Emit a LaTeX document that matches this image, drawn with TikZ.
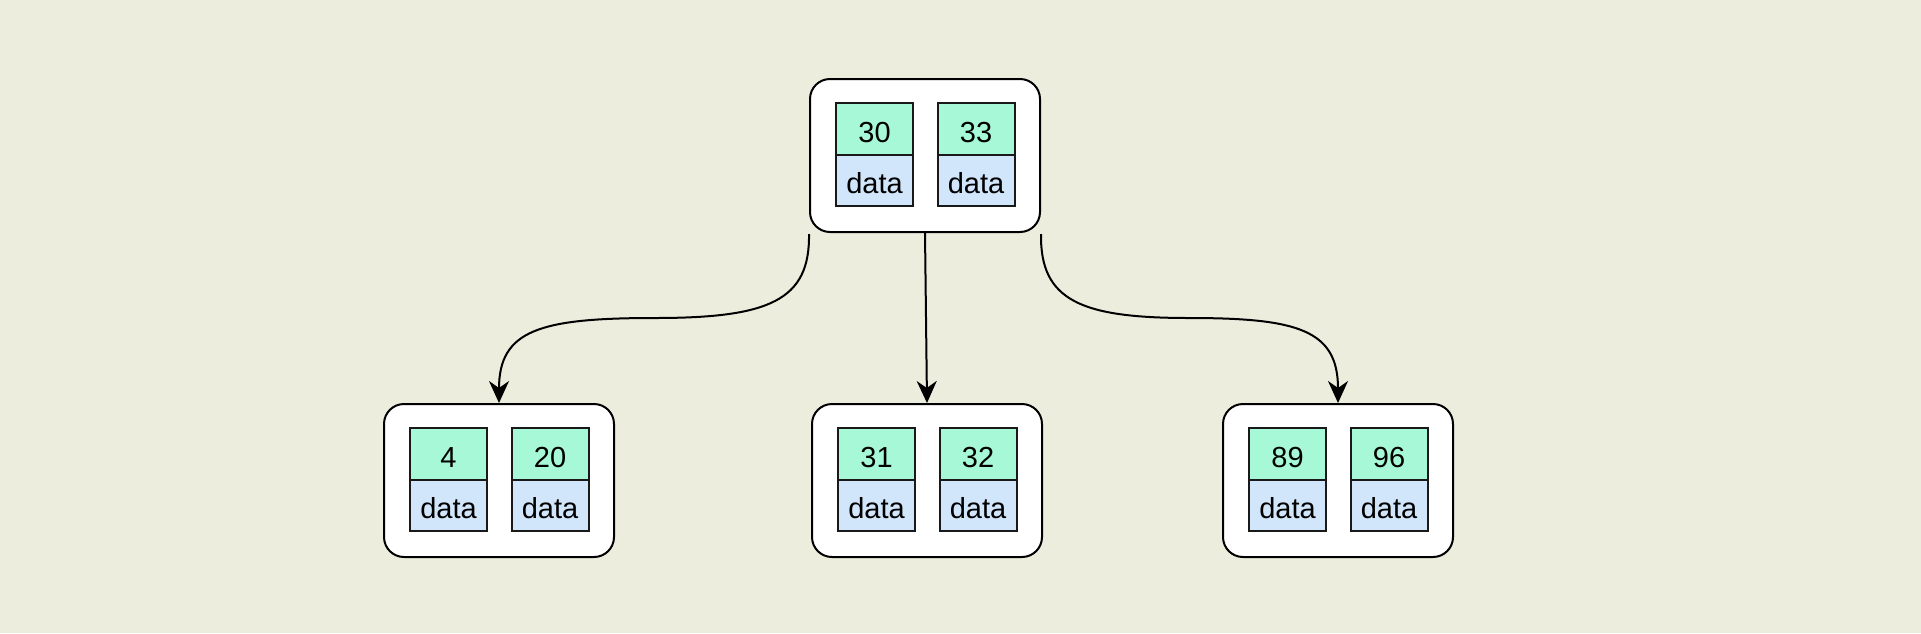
\documentclass[tikz,border=0pt]{standalone}
\usepackage{fontspec}
\setmainfont{Liberation Sans}
\usetikzlibrary{arrows.meta}
\definecolor{bg}{HTML}{EDEDDE}
\definecolor{keyc}{HTML}{A6F8D6}
\definecolor{datac}{HTML}{D1E5FB}
\tikzset{
  box/.style={draw, line width=2pt, rounded corners=20pt, fill=white, minimum width=230pt, minimum height=153pt, inner sep=0pt, anchor=north},
  cellbase/.style={draw=black!90, line width=2pt, minimum width=77pt, inner sep=0pt, text height=26pt, text depth=0pt, font=\fontsize{29}{34}\selectfont},
  keycell/.style={cellbase, fill=keyc, minimum height=52pt},
  datacell/.style={cellbase, fill=datac, minimum height=51pt},
  link/.style={line width=2pt, -{Stealth[length=22pt,width=20pt,inset=7pt]}}
}
\newcommand{\btnode}[5]{%
  \node[box] (#1) at (#2,#3) {};
  \node[keycell] (#1k1) at (#2-50.5,#3+51) {#4};
  \node[datacell] (#1d1) at (#2-50.5,#3+102.5) {data};
  \node[keycell] (#1k2) at (#2+51,#3+51) {#5};
  \node[datacell] (#1d2) at (#2+51,#3+102.5) {data};
}
\begin{document}
\begin{tikzpicture}[x=1pt,y=-1pt]
  \fill[bg] (0,0) rectangle (1921,633);
  \useasboundingbox (0,0) rectangle (1921,633);
  \btnode{top}{925}{78}{30}{33}
  \btnode{bl}{499}{403}{4}{20}
  \btnode{bm}{927}{403}{31}{32}
  \btnode{br}{1338}{403}{89}{96}
  \draw[link] ([yshift=-1pt]top.south west) .. controls (810,300) and (770,318) .. (655,318)
     .. controls (540,318) and (499,330) .. (bl.north);
  \draw[link] (top.south) -- (bm.north);
  \draw[link] ([yshift=-1pt]top.south east) .. controls (1040,300) and (1080,318) .. (1189,318)
     .. controls (1298,318) and (1338,330) .. (br.north);
\end{tikzpicture}
\end{document}
